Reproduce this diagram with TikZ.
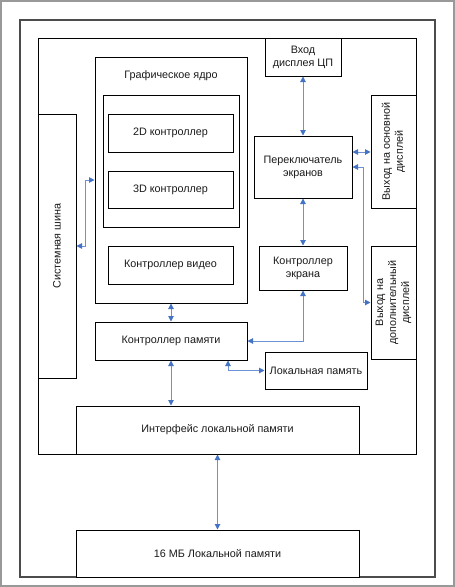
\documentclass[tikz,border=0pt]{standalone}
\usepackage{fontspec}
\setmainfont{Liberation Sans}
\usetikzlibrary{arrows.meta}
\definecolor{arrline}{HTML}{6A92D4}
\definecolor{arrhead}{HTML}{4472C4}
\definecolor{txt}{HTML}{1A1A1A}
\begin{document}
\begin{tikzpicture}[x=1pt,y=-1pt,
  box/.style={draw=black, line width=1pt, fill=white, inner sep=1pt, align=center,
    text=txt, font=\fontsize{10.8}{13}\selectfont},
  lbl/.style={inner sep=0pt, align=center, text=txt, font=\fontsize{10.8}{13}\selectfont},
  arr/.style={draw=arrline, line width=1pt,
    {Triangle[length=5.5pt,width=5.5pt,fill=arrhead,color=arrhead]}-{Triangle[length=5.5pt,width=5.5pt,fill=arrhead,color=arrhead]}}]
\useasboundingbox (0,0) rectangle (455,587);
% frames
\draw[draw=gray!80, line width=1.2pt] (1,1) rectangle (454,586);
\draw[draw=black!70, line width=1.3pt] (20,20) rectangle (435,577);
\draw[draw=black, line width=1pt, fill=white] (38,38) rectangle (416,454);
% boxes
\node[box, minimum width=76pt, minimum height=38pt] (cpu) at (303,57) {Вход\\дисплея ЦП};
\node[box, minimum width=152pt, minimum height=246pt] (gcore) at (171,180) {};
\node[lbl] (gtitle) at (171,76) {Графическое ядро};
\node[box, minimum width=136pt, minimum height=132pt] (ginner) at (171,161) {};
\node[box, minimum width=125pt, minimum height=38pt] (d2) at (170.5,133) {2D контроллер};
\node[box, minimum width=125pt, minimum height=37pt] (d3) at (170.5,189.5) {3D контроллер};
\node[box, minimum width=125pt, minimum height=38pt] (vid) at (170.5,265) {Контроллер видео};
\node[box, minimum width=152pt, minimum height=38pt] (mc) at (171,341) {Контроллер памяти};
\node[box, minimum width=38pt, minimum height=264pt] (bus) at (57,246) {};
\node[lbl, rotate=90] (buslbl) at (57,246) {Системная шина};
\node[box, minimum width=98pt, minimum height=62pt] (sw) at (303,167) {Переключатель\\экранов};
\node[box, minimum width=88pt, minimum height=44pt] (sc) at (303,268) {Контроллер\\экрана};
\node[box, minimum width=45pt, minimum height=113pt] (out1) at (393.5,151.5) {};
\node[lbl, rotate=90] (out1lbl) at (393.5,151.5) {Выход на основной\\дисплей};
\node[box, minimum width=45pt, minimum height=113pt] (out2) at (393.5,302.5) {};
\node[lbl, rotate=90] (out2lbl) at (393.5,302.5) {Выход на\\дополнительный\\дисплей};
\node[box, minimum width=102pt, minimum height=37pt] (lm) at (316,370.5) {Локальная память};
\node[box, minimum width=283pt, minimum height=48pt] (iface) at (217.5,430) {Интерфейс локальной памяти};
\node[box, minimum width=283pt, minimum height=47pt] (mem) at (217.5,553.5) {16 МБ Локальной памяти};
% helper coordinates
\coordinate (k1) at (363,302.5);
\coordinate (k3) at (85,180);
% connectors
\draw[arr] (cpu.south) -- (sw.north);
\draw[arr] (sw.east |- 0,152) -- (out1.west |- 0,152);
\draw[arr] (sw.east) -| (k1) -- (out2.west);
\draw[arr] (sw.south) -- (sc.north);
\draw[arr] (sc.south) |- (mc.east);
\draw[arr] (bus.east) -| (k3) -- (gcore.west);
\draw[arr] (gcore.south) -- (mc.north);
\draw[arr] (mc.south) -- (mc.south |- iface.north);
\draw[arr] (mc.south -| 228,0) |- (lm.west);
\draw[arr] (iface.south) -- (mem.north);
\end{tikzpicture}
\end{document}
